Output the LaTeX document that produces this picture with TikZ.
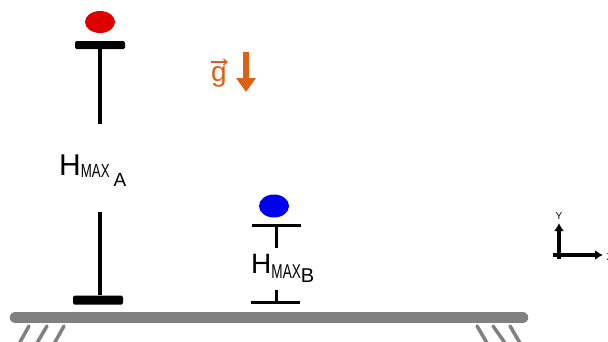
\documentclass[tikz,border=0pt]{standalone}
\usepackage{fontspec}
\setmainfont{Liberation Sans}
\usetikzlibrary{arrows.meta,shapes.geometric}
\definecolor{gorange}{RGB}{222,96,18}
\definecolor{groundgray}{RGB}{128,128,128}
\definecolor{ballred}{RGB}{220,0,0}
\definecolor{ballblue}{RGB}{0,0,240}
\begin{document}
\begin{tikzpicture}[x=1pt,y=-1pt,
  ball/.style={ellipse,inner sep=0pt,minimum width=30pt,minimum height=22pt},
  thickbar/.style={rectangle,fill=black,rounded corners=1.5pt,inner sep=0pt,minimum width=50pt,minimum height=8pt},
  thinbar/.style={rectangle,fill=black,inner sep=0pt,minimum width=49pt,minimum height=3pt},
  lbl/.style={inner sep=0pt,anchor=base west},
  hatch/.style={groundgray,line width=3.5pt,line cap=round},
  axis/.style={line width=3.3pt,-{Latex[length=8pt,width=10pt]}},
  axlbl/.style={inner sep=0pt,font=\fontsize{10}{10}\selectfont}]
\useasboundingbox (0,0) rectangle (608,341);
% ground
\coordinate (gl) at (15.5,317.5);
\coordinate (gr) at (522.5,317.5);
\draw[groundgray,line width=11.5pt,line cap=round] (gl) -- (gr);
\foreach \a/\b in {29/19.5,47/37,64/54.5}{\draw[hatch] (\a,326) -- (\b,343);}
\foreach \a/\b in {477/487,493/505,510/520}{\draw[hatch] (\a,326) -- (\b,343);}
% object A
\node[ball,fill=ballred] (ballA) at (100,22) {};
\node[thickbar] (topA) at (100,45) {};
\node[thickbar,minimum height=9pt] (botA) at (98,300) {};
\coordinate (endA1) at (100,124);
\coordinate (endA2) at (100,212);
\draw[line width=4.5pt] (topA.south) -- (endA1);
\draw[line width=4.5pt] (endA2) -- (botA.north -| endA2);
\node[lbl] (hA) at (59,175) {{\fontsize{30}{30}\selectfont H}{\fontsize{19}{19}\selectfont\raisebox{-2pt}{\scalebox{0.7}[1]{MAX}}\hspace{4pt}\raisebox{-11pt}{A}}};
% object B
\node[ball,fill=ballblue,minimum width=30pt,minimum height=23pt] (ballB) at (274,206) {};
\node[thinbar] (topB) at (276,225) {};
\node[thinbar] (botB) at (275,302) {};
\coordinate (endB1) at (276,248);
\coordinate (endB2) at (276,290);
\draw[line width=3pt] (topB.center) -- (endB1);
\draw[line width=3pt] (endB2) -- (botB.center -| endB2);
\node[lbl] (hB) at (251,273) {{\fontsize{28}{28}\selectfont H}{\fontsize{20}{20}\selectfont\raisebox{-5pt}{\scalebox{0.68}[1]{MAX}}\raisebox{-9pt}{B}}};
% gravity
\node[inner sep=0pt,text=gorange,anchor=base] (g) at (219,81) {\fontsize{28}{28}\selectfont g};
\coordinate (vs) at (211,62);
\coordinate (ve) at (228,62);
\draw[gorange,line width=1.3pt,-{Straight Barb[length=3.5pt,width=6pt]}] (vs) -- (ve);
\coordinate (gs) at (246,52);
\coordinate (ge) at (246,92);
\draw[gorange,line width=5.5pt,-{Triangle[length=14pt,width=19pt]}] (gs) -- (ge);
% axes
\coordinate (O) at (559,255);
\coordinate (Ob) at (559,259);
\coordinate (Ol) at (553,255);
\coordinate (Yt) at (559,223);
\coordinate (Xt) at (603,255);
\draw[axis] (Ob) -- (Yt);
\draw[axis] (Ol) -- (Xt);
\node[axlbl] (ylab) at (559,216) {Y};
\node[axlbl] (xlab) at (610,257) {X};
\end{tikzpicture}
\end{document}
